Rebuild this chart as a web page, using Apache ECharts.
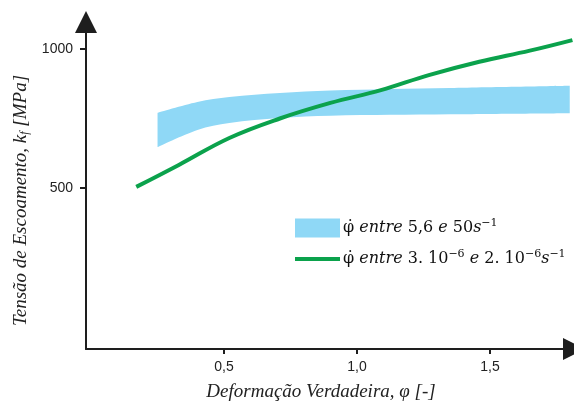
<!DOCTYPE html>
<html>
<head>
<meta charset="utf-8">
<script src="https://cdn.jsdelivr.net/npm/echarts@6/dist/echarts.min.js"></script>
<style>
  html, body { margin: 0; padding: 0; background: #ffffff; }
  #chart { width: 574px; height: 401px; }
</style>
</head>
<body>
<div id="chart"></div>
<script>
// Flow stress band for high strain rates (lower and upper bound of the band)
const bandStrain = [0.25, 0.40, 0.52, 0.71, 0.90, 1.35, 1.80];
const bandLower = [647, 709, 734, 752, 760, 765, 769];
const bandUpper = [770, 809, 827, 842, 851, 860, 868];

// Flow stress curve for very low strain rates
const slowStrain = [0.17, 0.33, 0.52, 0.71, 0.90, 1.09, 1.27, 1.46, 1.65, 1.81];
const slowStress = [504, 583, 680, 750, 806, 852, 906, 954, 994, 1032];

// Tick positions and labels
const xTicks = [0.5, 1.0, 1.5];
const xTickLabels = ['0,5', '1,0', '1,5'];
const yTicks = [500, 1000];
const yTickLabels = ['500', '1000'];

const BLUE = '#8fd8f6';
const GREEN = '#0ba24c';
const AXIS = '#1e1e1e';
const SERIF = 'Liberation Serif';
const MATH = 'DejaVu Serif';

// The stress value goes first so the stack is summed along the stress axis
const bandLowerData = bandStrain.map((x, i) => [bandLower[i], x]);
const bandWidthData = bandStrain.map((x, i) => [bandUpper[i] - bandLower[i], x]);
const slowData = slowStrain.map((x, i) => [x, slowStress[i]]);

const legendRich = {
  n: { fontFamily: MATH, fontSize: 16, color: '#111', lineHeight: 20 },
  i: { fontFamily: MATH, fontSize: 16, fontStyle: 'italic', color: '#111', lineHeight: 20 },
  s: { fontFamily: MATH, fontSize: 11, color: '#111', lineHeight: 20, padding: [0, 0, 9, 0] }
};

const chart = echarts.init(document.getElementById('chart'), null, { renderer: 'canvas' });

chart.setOption({
  animation: false,
  backgroundColor: '#ffffff',
  grid: { left: 86, top: 22, width: 488, height: 327, outerBoundsMode: 'none' },
  xAxis: {
    type: 'value',
    min: -0.019,
    max: 1.816,
    z: 5,
    splitLine: { show: false },
    axisLine: {
      onZero: false,
      lineStyle: { color: AXIS, width: 2 },
      symbol: ['none', 'triangle'],
      symbolSize: [22, 22]
    },
    axisTick: { customValues: xTicks, length: 5, lineStyle: { color: AXIS, width: 2 } },
    axisLabel: {
      customValues: xTicks,
      margin: 11,
      fontFamily: 'Liberation Sans',
      fontSize: 14,
      color: '#222',
      formatter: v => xTickLabels[xTicks.indexOf(v)] ?? ''
    },
    name: 'Deformação Verdadeira, φ [-]',
    nameLocation: 'middle',
    nameGap: 33,
    nameTextStyle: {
      fontFamily: SERIF, fontSize: 19, fontStyle: 'italic', color: '#222',
      padding: [0, 18, 0, 0]
    }
  },
  yAxis: {
    type: 'value',
    min: -79,
    max: 1097,
    z: 5,
    splitLine: { show: false },
    axisLine: {
      onZero: false,
      lineStyle: { color: AXIS, width: 2 },
      symbol: ['none', 'triangle'],
      symbolSize: [22, 22]
    },
    axisTick: { customValues: yTicks, length: 6, lineStyle: { color: AXIS, width: 2 } },
    axisLabel: {
      customValues: yTicks,
      margin: 13,
      fontFamily: 'Liberation Sans',
      fontSize: 14,
      color: '#222',
      formatter: v => yTickLabels[yTicks.indexOf(v)] ?? ''
    },
    name: '{i|Tensão de Escoamento, k}{sub|f}{i| [MPa]}',
    nameLocation: 'middle',
    nameGap: 46,
    nameRotate: 90,
    nameTextStyle: {
      padding: [0, 30, 0, 0],
      rich: {
        i: { fontFamily: SERIF, fontSize: 19, fontStyle: 'italic', color: '#222', lineHeight: 22 },
        sub: { fontFamily: SERIF, fontSize: 12, fontStyle: 'italic', color: '#222', lineHeight: 22, padding: [8, 0, 0, 0] }
      }
    }
  },
  legend: [
    {
      data: [{ name: 'rapido', icon: 'rect', itemStyle: { color: BLUE } }],
      left: 295,
      top: 218,
      padding: 0,
      itemWidth: 45,
      itemHeight: 19,
      itemGap: 0,
      selectedMode: false,
      formatter: () => '{n|φ̇ }{i|entre }{n|5,6 }{i|e }{n|50}{i|s}{s|−1}',
      textStyle: { padding: [0, 0, 0, -2], rich: legendRich }
    },
    {
      data: [{ name: 'lento', icon: 'rect', itemStyle: { color: GREEN } }],
      left: 295,
      top: 249,
      padding: 0,
      itemWidth: 45,
      itemHeight: 4,
      itemGap: 0,
      selectedMode: false,
      formatter: () => '{n|φ̇ }{i|entre }{n|3. 10}{s|−6}{i| e }{n|2. 10}{s|−6}{i|s}{s|−1}',
      textStyle: { padding: [0, 0, 0, -2], rich: legendRich }
    }
  ],
  series: [
    {
      name: 'base',
      type: 'line',
      stack: 'band',
      data: bandLowerData,
      encode: { x: 1, y: 0 },
      smooth: 0.35,
      showSymbol: false,
      symbol: 'none',
      lineStyle: { opacity: 0 },
      silent: true
    },
    {
      name: 'rapido',
      type: 'line',
      stack: 'band',
      data: bandWidthData,
      encode: { x: 1, y: 0 },
      smooth: 0.35,
      showSymbol: false,
      symbol: 'none',
      color: BLUE,
      lineStyle: { opacity: 0 },
      areaStyle: { color: BLUE, opacity: 1 },
      silent: true
    },
    {
      name: 'lento',
      type: 'line',
      data: slowData,
      smooth: 0.4,
      showSymbol: false,
      symbol: 'none',
      color: GREEN,
      lineStyle: { color: GREEN, width: 4 },
      clip: false,
      z: 3
    }
  ]
});
</script>
</body>
</html>
